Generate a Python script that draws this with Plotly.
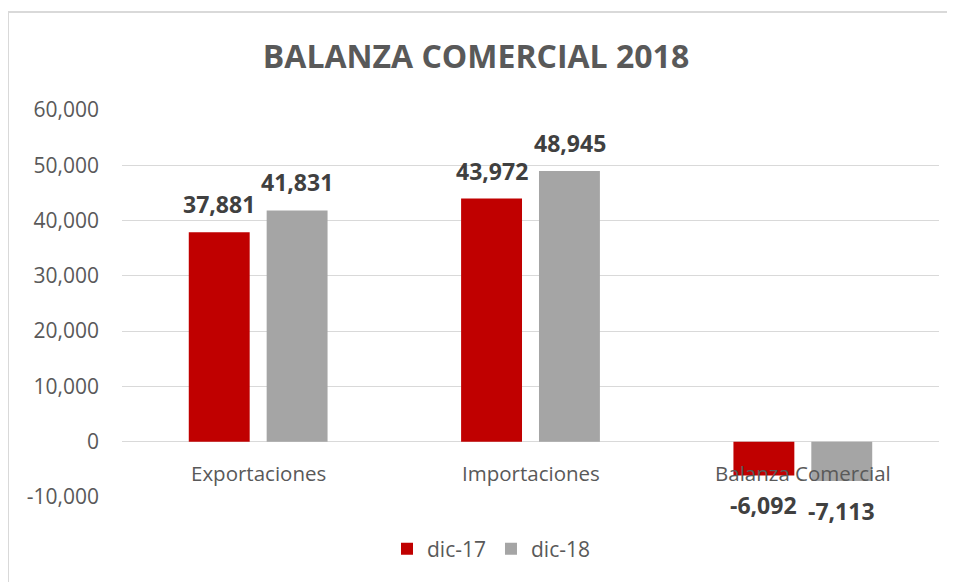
import plotly.graph_objects as go

categories = ["Exportaciones", "Importaciones", "Balanza Comercial"]
series_names = ["dic-17", "dic-18"]
dic17 = [37881, 43972, -6092]
dic18 = [41831, 48945, -7113]
tick_vals = [-10000, 0, 10000, 20000, 30000, 40000, 50000, 60000]
tick_text = ["-10,000", "0", "10,000", "20,000", "30,000", "40,000", "50,000", "60,000"]
title_text = "BALANZA COMERCIAL 2018"

colors = ["#C00000", "#A5A5A5"]
FONT = "Open Sans"
W, H = 947, 574
ML, MR, MT, MB = 114, 16, 102, 85
PW = W - ML - MR
PH = H - MT - MB

fig = go.Figure()
for name, vals, col in zip(series_names, [dic17, dic18], colors):
    fig.add_trace(go.Bar(
        x=categories, y=vals, name=name,
        marker=dict(color=col, line=dict(width=0)),
        cliponaxis=False,
    ))

# data labels
for vals, dx in zip([dic17, dic18], [-39, 39]):
    for c, v in zip(categories, vals):
        fig.add_annotation(x=c, y=v, xref="x", yref="y", text=f"{v:,}",
                           showarrow=False, xshift=dx,
                           yanchor="bottom" if v >= 0 else "top",
                           yshift=10 if v >= 0 else -12,
                           font=dict(family=FONT, size=23, color="#404040", weight="bold"))

# category labels at the zero line
for c in categories:
    fig.add_annotation(x=c, y=0, xref="x", yref="y", text=c, showarrow=False,
                       yanchor="top", yshift=-15,
                       font=dict(family=FONT, size=20.5, color="#595959"))

fig.add_shape(type="rect", xref="paper", yref="paper",
              x0=(0 - ML) / PW, x1=2, y0=-1, y1=(PH + MT - 4) / PH,
              line=dict(color="#D9D9D9", width=2), layer="below")

fig.update_layout(
    width=W, height=H,
    margin=dict(l=ML, r=MR, t=MT, b=MB),
    paper_bgcolor="white", plot_bgcolor="white",
    title=dict(text=title_text, x=468 / W, xref="container", xanchor="center",
               y=1 - 49 / H, yref="container", yanchor="middle",
               font=dict(family=FONT, size=32, color="#595959", weight="bold")),
    barmode="group", bargap=0.428, bargroupgap=0.218,
    showlegend=True,
    legend=dict(orientation="h", x=(483 - ML) / PW, xanchor="center",
                y=-52 / PH, yanchor="middle",
                font=dict(family=FONT, size=21, color="#595959"),
                itemwidth=30),
    xaxis=dict(showticklabels=False, showgrid=False, zeroline=False,
               showline=False, range=[-0.5, 2.5]),
    yaxis=dict(range=[-10000, 60000], tickvals=tick_vals, ticktext=tick_text,
               showgrid=True, gridcolor="#D9D9D9", gridwidth=1.3,
               zeroline=True, zerolinecolor="#D9D9D9", zerolinewidth=1.3,
               showline=False, ticks="", ticklabelstandoff=22,
               tickfont=dict(family=FONT, size=21, color="#595959")),
)

fig.write_html("out.html")
